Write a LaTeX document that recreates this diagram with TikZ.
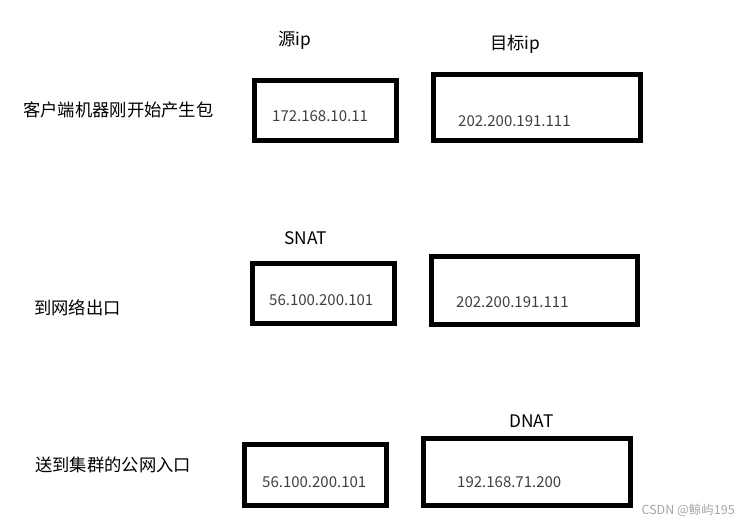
\documentclass[tikz,border=0pt]{standalone}
\usepackage{fontspec}
\setmainfont{Noto Sans CJK SC}
\begin{document}
\begin{tikzpicture}[x=1pt,y=-1pt,
  box/.style={draw=black,line width=5pt,inner sep=0pt},
  lbl/.style={inner sep=0pt,anchor=west,font=\fontsize{17.3}{19}\selectfont,text=black},
  ip/.style={inner sep=0pt,anchor=west,font=\fontsize{15}{17}\selectfont,text=black!75}]
\fill[white] (0,0) rectangle (747,525);
\useasboundingbox (0,0) rectangle (747,525);
% boxes
\node[box,minimum width=142pt,minimum height=60pt] (b1) at (325.5,110.5) {};
\node[box,minimum width=207pt,minimum height=66pt] (b2) at (537,107.5) {};
\node[box,minimum width=142pt,minimum height=60pt] (b3) at (323.5,293.5) {};
\node[box,minimum width=206pt,minimum height=68pt] (b4) at (534.5,290.5) {};
\node[box,minimum width=142pt,minimum height=61pt] (b5) at (315.5,475) {};
\node[box,minimum width=207pt,minimum height=67pt] (b6) at (527,472) {};
% ip texts
\node[ip] (t1) at (272,116) {172.168.10.11};
\node[ip] (t2) at (458,121) {202.200.191.111};
\node[ip] (t3) at (269,300) {56.100.200.101};
\node[ip] (t4) at (456,302) {202.200.191.111};
\node[ip] (t5) at (262,482) {56.100.200.101};
\node[ip] (t6) at (457,482) {192.168.71.200};
% headers
\node[lbl] (h1) at (278,40) {源ip};
\node[lbl] (h2) at (490,44) {目标ip};
\node[lbl] (h3) at (284,238) {SNAT};
\node[lbl] (h4) at (509,421) {DNAT};
% row labels
\node[lbl] (r1) at (23,110) {客户端机器刚开始产生包};
\node[lbl] (r2) at (34,308) {到网络出口};
\node[lbl] (r3) at (35,465) {送到集群的公网入口};
% watermark
\node[inner sep=0pt,anchor=east,font=\fontsize{12.5}{14}\selectfont,text=black!35] (wm) at (735,510) {CSDN @鲸屿195};
\end{tikzpicture}
\end{document}
